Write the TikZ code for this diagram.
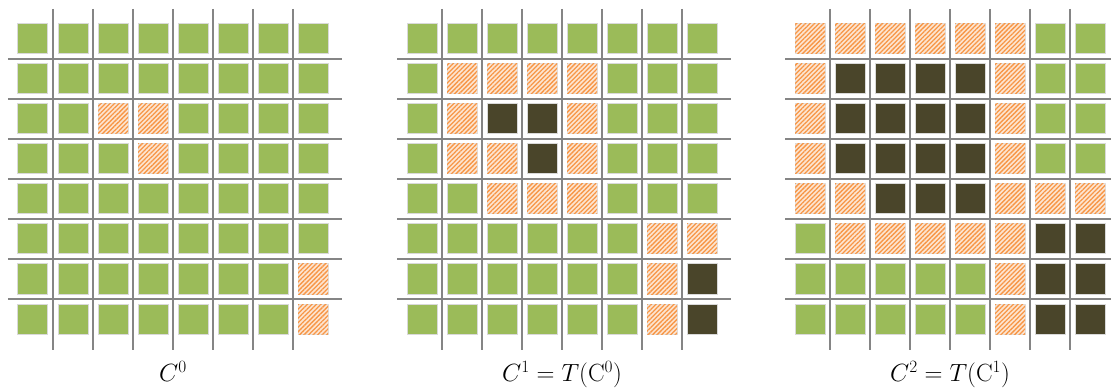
\documentclass[tikz,border=0pt]{standalone}
\usetikzlibrary{patterns.meta}

\definecolor{cellgreen}{HTML}{9BBB59}
\definecolor{celldark}{HTML}{4A452A}
\definecolor{cellorange}{HTML}{F79646}

\tikzset{
  gridline/.style={draw=black!48, line width=2pt},
  cellg/.style={fill=cellgreen, draw=black!15, line width=1pt},
  celld/.style={fill=celldark, draw=black!15, line width=1pt},
  cellh/.style={fill=cellorange!25, draw=black!12, line width=1pt,
    postaction={pattern={Lines[angle=45,distance=3.2pt,line width=1.3pt]}, pattern color=cellorange}},
  caption/.style={font=\fontsize{27}{32}\selectfont, inner sep=0pt, anchor=base}
}

\begin{document}
\begin{tikzpicture}[x=40pt,y=40pt]
\useasboundingbox (-0.325,0.475) rectangle (27.45,-9.275);

\foreach \ox in {0,9.725,19.425} {
  \foreach \k in {1,...,7} {
    \draw [gridline] (\ox-0.125,-\k) -- (\ox+8.225,-\k);
    \draw [gridline] (\ox+\k,0.25) -- (\ox+\k,-8.275);
  }
}

\begin{scope}
\foreach \row [count=\r from 0] in {
  {g,g,g,g,g,g,g,g},{g,g,g,g,g,g,g,g},{g,g,h,h,g,g,g,g},{g,g,g,h,g,g,g,g},
  {g,g,g,g,g,g,g,g},{g,g,g,g,g,g,g,g},{g,g,g,g,g,g,g,h},{g,g,g,g,g,g,g,h}} {
  \foreach \t [count=\c from 0] in \row
    \path [cell\t] (\c+0.125,-\r-0.125) rectangle (\c+0.875,-\r-0.875);
}
\node [caption] (cap0) at (4,-9.06) {$C^0$};
\end{scope}

\begin{scope}[shift={(9.725,0)}]
\foreach \row [count=\r from 0] in {
  {g,g,g,g,g,g,g,g},{g,h,h,h,h,g,g,g},{g,h,d,d,h,g,g,g},{g,h,h,d,h,g,g,g},
  {g,g,h,h,h,g,g,g},{g,g,g,g,g,g,h,h},{g,g,g,g,g,g,h,d},{g,g,g,g,g,g,h,d}} {
  \foreach \t [count=\c from 0] in \row
    \path [cell\t] (\c+0.125,-\r-0.125) rectangle (\c+0.875,-\r-0.875);
}
\node [caption] (cap1) at (4,-9.06) {$C^1 = T(\mathrm{C}^0)$};
\end{scope}

\begin{scope}[shift={(19.425,0)}]
\foreach \row [count=\r from 0] in {
  {h,h,h,h,h,h,g,g},{h,d,d,d,d,h,g,g},{h,d,d,d,d,h,g,g},{h,d,d,d,d,h,g,g},
  {h,h,d,d,d,h,h,h},{g,h,h,h,h,h,d,d},{g,g,g,g,g,h,d,d},{g,g,g,g,g,h,d,d}} {
  \foreach \t [count=\c from 0] in \row
    \path [cell\t] (\c+0.125,-\r-0.125) rectangle (\c+0.875,-\r-0.875);
}
\node [caption] (cap2) at (4,-9.06) {$C^2 = T(\mathrm{C}^1)$};
\end{scope}

\end{tikzpicture}
\end{document}
